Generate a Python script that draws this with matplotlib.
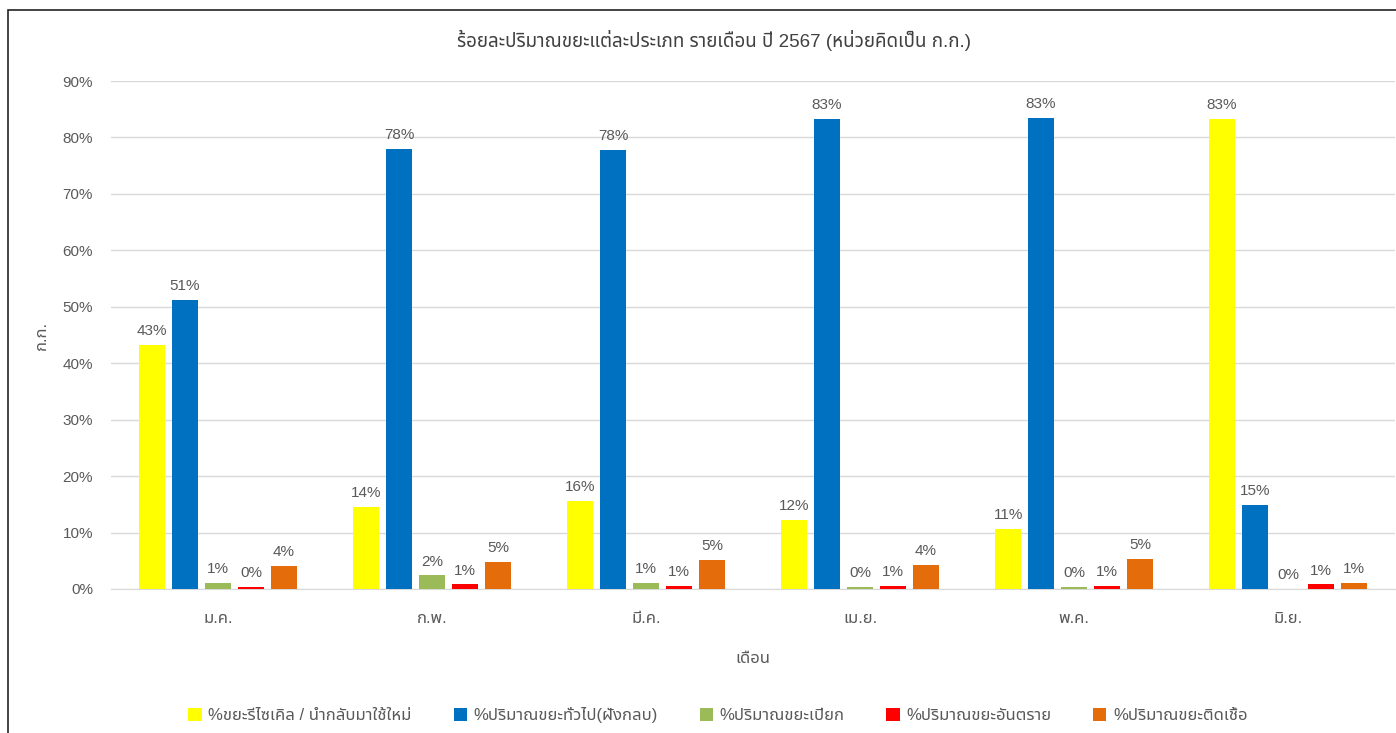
import matplotlib
matplotlib.use("Agg")
import matplotlib.pyplot as plt
from matplotlib import font_manager
from matplotlib.patches import Rectangle
import numpy as np

# data (percent of waste per type)
months = ["ม.ค.", "ก.พ.", "มี.ค.", "เม.ย.", "พ.ค.", "มิ.ย."]
series_names = ["%ขยะรีไซเคิล / นำกลับมาใช้ใหม่", "%ปริมาณขยะทั่วไป(ฝังกลบ)",
                "%ปริมาณขยะเปียก", "%ปริมาณขยะอันตราย", "%ปริมาณขยะติดเชื้อ"]
recycle = [43.3, 14.5, 15.6, 12.2, 10.6, 83.3]
general = [51.2, 78.0, 77.7, 83.3, 83.4, 14.9]
wet = [1.1, 2.4, 1.1, 0.4, 0.3, 0.0]
hazard = [0.4, 0.8, 0.6, 0.6, 0.6, 0.8]
infect = [4.1, 4.8, 5.1, 4.3, 5.4, 1.1]
colors = ["#FFFF00", "#0070C0", "#9BBB59", "#FF0000", "#E46C0A"]

# pick a Thai-capable font
names = set(f.name for f in font_manager.fontManager.ttflist)
thai_font = "DejaVu Sans"
for cand in ["Noto Sans Thai", "Noto Sans Thai UI", "IBM Plex Sans Thai", "Sarabun", "Kanit"]:
    if cand in names:
        thai_font = cand
        break
plt.rcParams["font.family"] = ["Liberation Sans", thai_font, "DejaVu Sans"]

gray = "#595959"
fs = 11
fig = plt.figure(figsize=(13.96, 7.33), dpi=100)
ax = fig.add_axes([111 / 1396, 144 / 733, 1284 / 1396, 508 / 733])

x = np.arange(len(months))
width = 0.121
step = 0.154
data = [recycle, general, wet, hazard, infect]
for i, vals in enumerate(data):
    pos = x + (i - 2) * step
    bars = ax.bar(pos, vals, width, color=colors[i], label=series_names[i], zorder=3)
    for b, v in zip(bars, vals):
        ax.annotate("%d%%" % round(v), (b.get_x() + b.get_width() / 2, v),
                    xytext=(0, 5), textcoords="offset points",
                    ha="center", va="bottom", fontsize=fs, color=gray)

ax.set_xlim(-0.5, len(months) - 0.5)
ax.set_ylim(0, 90)
ax.set_yticks(np.arange(0, 91, 10))
ax.set_yticklabels(["%d%%" % t for t in range(0, 91, 10)])
ax.set_xticks(x)
ax.set_xticklabels(months)
ax.grid(axis="y", color="#D9D9D9", linewidth=1, zorder=0)
for s in ["top", "right", "left"]:
    ax.spines[s].set_visible(False)
ax.spines["bottom"].set_color("#D9D9D9")
ax.tick_params(axis="both", length=0, colors=gray, labelsize=fs)
ax.tick_params(axis="x", pad=16, labelsize=12)
ax.tick_params(axis="y", pad=13)

ax.set_xlabel("เดือน", fontsize=12, color=gray, labelpad=18)
ax.set_ylabel("ก.ก.", fontsize=12, color=gray, labelpad=10)

fig.text(714 / 1396, 1 - 40 / 733, "ร้อยละปริมาณขยะแต่ละประเภท รายเดือน ปี 2567 (หน่วยคิดเป็น ก.ก.)",
         ha="center", va="center", fontsize=13.5, color="#404040")

fig.legend(loc="center", bbox_to_anchor=(718 / 1396, 18 / 733), ncol=5, frameon=False,
           fontsize=12, labelcolor=gray, handlelength=0.8, handleheight=0.8,
           handletextpad=0.4, columnspacing=2.5)

# chart frame (cropped on right/bottom)
fig.patches.append(Rectangle((8 / 1396, -0.1), 1.2, 1 - 10 / 733 + 0.1,
                             transform=fig.transFigure, fill=False,
                             edgecolor="#222222", linewidth=1.2))

fig.savefig("out.png", dpi=100)
